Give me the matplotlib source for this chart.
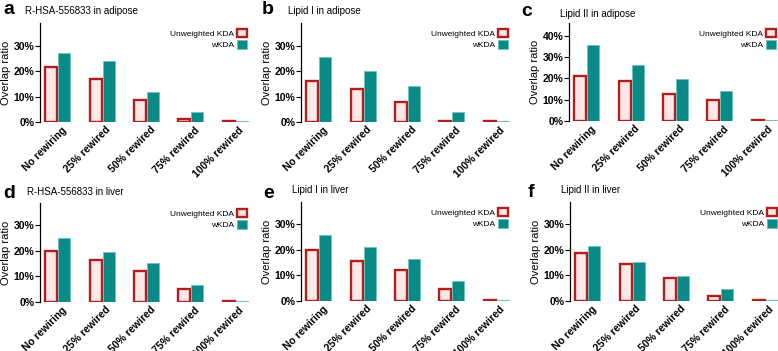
import matplotlib.pyplot as plt
import numpy as np
from matplotlib.ticker import FuncFormatter

plt.rcParams['font.family'] = ['Liberation Sans', 'DejaVu Sans']

categories = ["No rewiring", "25% rewired", "50% rewired", "75% rewired", "100% rewired"]

titles = ["R-HSA-556833 in adipose", "Lipid I in adipose", "Lipid II in adipose",
          "R-HSA-556833 in liver", "Lipid I in liver", "Lipid II in liver"]
letters = ["a", "b", "c", "d", "e", "f"]

unweighted_a = [21.5, 17.0, 8.8, 1.3, 0.5]
wkda_a = [27.0, 24.0, 12.0, 4.0, 0.5]
unweighted_b = [16.0, 13.0, 7.8, 0.3, 0.3]
wkda_b = [25.5, 20.0, 14.0, 4.0, 0.3]
unweighted_c = [21.0, 19.0, 12.5, 10.0, 0.5]
wkda_c = [35.5, 26.5, 19.5, 14.0, 0.5]
unweighted_d = [20.0, 16.5, 12.0, 5.2, 0.5]
wkda_d = [25.0, 19.3, 15.0, 6.7, 0.3]
unweighted_e = [20.0, 15.5, 12.2, 4.8, 0.3]
wkda_e = [25.5, 21.0, 16.5, 7.8, 0.3]
unweighted_f = [18.8, 14.5, 8.8, 1.8, 0.3]
wkda_f = [21.2, 15.2, 9.8, 4.5, 0.3]

unweighted = [unweighted_a, unweighted_b, unweighted_c, unweighted_d, unweighted_e, unweighted_f]
wkda = [wkda_a, wkda_b, wkda_c, wkda_d, wkda_e, wkda_f]
ytops = [39, 39, 46, 38.5, 38.5, 38.5]
yticks = [[0, 10, 20, 30], [0, 10, 20, 30], [0, 10, 20, 30, 40],
          [0, 10, 20, 30], [0, 10, 20, 30], [0, 10, 20, 30]]

W, H = 778, 351
fig = plt.figure(figsize=(W / 100, H / 100), dpi=100)

# axes boxes in pixels: left, top (of spine), bottom (0%)
lefts = [40, 301, 569, 40, 301, 570]
tops = [23, 23, 23, 203, 202, 202]
bottoms = [122, 122, 121, 302, 301, 301]
ax_w = 213
letter_pos = [(3, 9), (262, 9), (521, 12), (3, 193), (263, 193), (528, 192)]
title_pos = [(25, 11), (288, 11), (560, 14), (27, 192), (292, 190), (561, 190)]

red = "#b51d1d"
pink = "#fde8e8"
teal = "#0a8a86"
teal_edge = "#6cc3bf"
pct = FuncFormatter(lambda v, p: f"{v:.0f}%")

x = np.arange(len(categories))
bw = 0.27
for i in range(6):
    l, t, b = lefts[i], tops[i], bottoms[i]
    ax = fig.add_axes([l / W, (H - b) / H, ax_w / W, (b - t) / H])
    ax.bar(x - 0.145, unweighted[i], bw, color=pink, edgecolor=red, linewidth=1.7,
           label="Unweighted KDA")
    ax.bar(x + 0.145, wkda[i], bw, color=teal, edgecolor=teal_edge, linewidth=0.6,
           label="wKDA")
    ax.set_xlim(-0.4, 4.4)
    ax.set_ylim(0, ytops[i])
    ax.set_yticks(yticks[i])
    ax.yaxis.set_major_formatter(pct)
    ax.set_xticks(x + 0.08)
    ax.set_xticklabels(categories, rotation=45, ha="right", rotation_mode="anchor",
                       fontsize=7.5, fontweight="bold")
    for lab in ax.get_yticklabels():
        lab.set_fontweight("bold")
        lab.set_fontsize(7.5)
    ax.tick_params(axis="x", length=0, pad=2)
    ax.tick_params(axis="y", length=3.5, width=0.8, pad=0.5)
    for s in ["top", "right", "bottom"]:
        ax.spines[s].set_visible(False)
    ax.spines["left"].set_linewidth(0.9)
    ax.set_ylabel("Overlap ratio", fontsize=8, labelpad=2)
    ax.legend(loc="upper right", bbox_to_anchor=(1.0, 1.0), frameon=False,
              markerfirst=False, fontsize=6, handlelength=1.2, handleheight=1.2,
              handletextpad=0.4, labelspacing=0.25, borderaxespad=0.3)

    lx, ly = letter_pos[i]
    fig.text(lx / W, 1 - ly / H, letters[i], fontsize=14, fontweight="bold",
             ha="left", va="center")
    tx, ty = title_pos[i]
    fig.text(tx / W, 1 - ty / H, titles[i], fontsize=7, ha="left", va="center")

fig.savefig("out.png", dpi=100)
